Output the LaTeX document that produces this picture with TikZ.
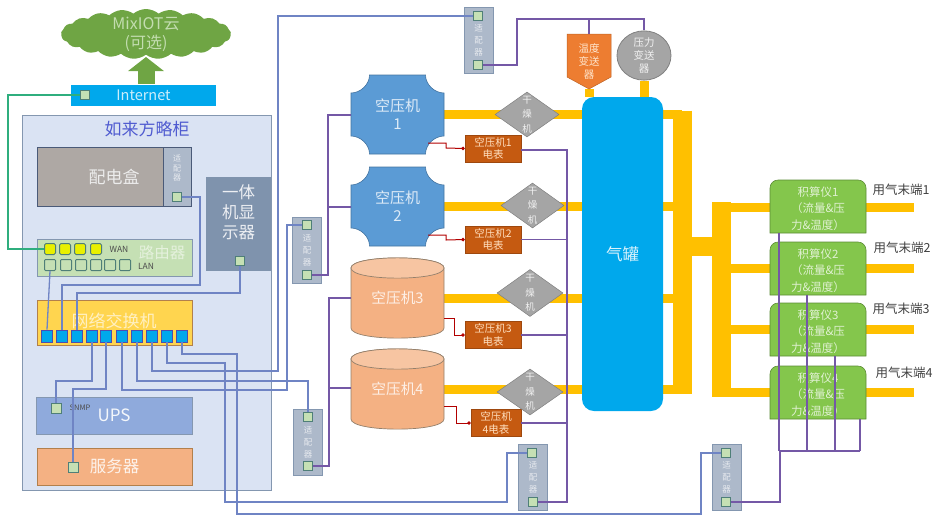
\documentclass[tikz,border=0pt]{standalone}
\usepackage{fontspec}
\setmainfont{Noto Sans CJK SC}
\usetikzlibrary{shapes.geometric,shapes.symbols,arrows.meta}
\pgfdeclarelayer{pipes}
\pgfsetlayers{pipes,main}
\definecolor{cabfill}{HTML}{DAE3F3}
\definecolor{cabedge}{HTML}{8497B0}
\definecolor{linkc}{HTML}{6F84C4}
\definecolor{purp}{HTML}{7458A6}
\definecolor{pipec}{HTML}{FFC000}
\definecolor{tankc}{HTML}{00A8EC}
\definecolor{greyd}{HTML}{A5A5A5}
\definecolor{compb}{HTML}{5B9BD5}
\definecolor{compo}{HTML}{F4B183}
\definecolor{meterc}{HTML}{C55A11}
\definecolor{totc}{HTML}{84C64C}
\definecolor{cloudc}{HTML}{6FA544}
\definecolor{cloudt}{HTML}{C3DDB0}
\definecolor{portc}{HTML}{C5E0B4}
\definecolor{porte}{HTML}{4F7F78}
\definecolor{yportc}{HTML}{E8F000}
\definecolor{pdc}{HTML}{AEA8A4}
\definecolor{pde}{HTML}{4A5A78}
\definecolor{dispc}{HTML}{7F93AD}
\definecolor{rtc}{HTML}{C5E0B4}
\definecolor{swc}{HTML}{FFD54F}
\definecolor{upsc}{HTML}{8FAADC}
\definecolor{adc}{HTML}{ADB9CA}
\definecolor{greenl}{HTML}{2FAE7E}
\definecolor{tempc}{HTML}{ED7D31}
\newcommand{\fs}[1]{\fontsize{#1pt}{\dimexpr #1pt*12/10\relax}\selectfont}
\tikzset{
  boxn/.style={rectangle,inner sep=0pt,align=center},
  adapter/.style={boxn,fill=adc,draw=cabedge,line width=.8pt,minimum width=29pt,minimum height=66pt,text=white!70!adc,font=\fs{8.5}},
  port/.style={rectangle,inner sep=0pt,minimum size=9pt,fill=portc,draw=porte,line width=1pt},
  swport/.style={rectangle,inner sep=0pt,minimum width=11pt,minimum height=12pt,fill=tankc,draw=blue!40!gray,line width=.7pt},
  yport/.style={rectangle,rounded corners=1.5pt,inner sep=0pt,minimum size=11pt,fill=yportc,draw=porte,line width=1pt},
  lport/.style={rectangle,rounded corners=1pt,inner sep=0pt,minimum size=11pt,fill=portc,draw=porte,line width=1pt},
  dryer/.style={diamond,aspect=1.4,inner sep=0pt,fill=greyd,draw=gray,line width=.5pt},
  dryt/.style={boxn,text=white!85!greyd,font=\fs{9.5}},
  meter/.style={boxn,fill=meterc,draw=meterc!80!black,line width=.5pt,text=orange!25!white,font=\fs{10.5}},
  link/.style={draw=linkc,line width=1.3pt},
  plink/.style={draw=purp,line width=1.1pt},
  redl/.style={draw=red!70!black,line width=1pt,-{Circle[length=3.5pt,width=3.5pt]}},
  pipe/.style={draw=pipec,line width=9pt},
  bigpipe/.style={draw=pipec,line width=19pt},
  cylt/.style={boxn,text=white!80!compo,font=\fs{14.7},minimum width=93pt,minimum height=80pt},
  compt/.style={boxn,text=white!80!compb,font=\fs{15}},
  tott/.style={boxn,text=white!75!totc,font=\fs{11.5},minimum width=96pt,minimum height=49pt},
  endl/.style={inner sep=0pt,text=black!75,font=\fs{12.5}},
  tinyl/.style={inner sep=0pt,text=black!70,font=\fs{8.5}},
}
\newcommand{\plaq}[3]{%
  \path[fill=compb,draw=compb!75!black,line width=.6pt,shift={(#2)}]
   (-28,-39.5) -- (28,-39.5) .. controls (28,-30) and (37,-21.5) .. (46.5,-21.5)
   -- (46.5,21.5) .. controls (37,21.5) and (28,30) .. (28,39.5)
   -- (-28,39.5) .. controls (-28,30) and (-37,21.5) .. (-46.5,21.5)
   -- (-46.5,-21.5) .. controls (-37,-21.5) and (-28,-30) .. (-28,-39.5) -- cycle;
  \node[compt,minimum width=93pt,minimum height=79pt] (#1) at (#2) {#3};}
\newcommand{\cylz}[3]{%
  \path[fill=compo,draw=gray!70!brown,line width=.7pt,shift={(#2)}]
   (-46.5,-30) -- (-46.5,30) .. controls (-46.5,43.5) and (46.5,43.5) .. (46.5,30) -- (46.5,-30)
   .. controls (46.5,-43.5) and (-46.5,-43.5) .. (-46.5,-30) -- cycle;
  \path[fill=compo!75!white,draw=gray!70!brown,line width=.7pt,shift={(#2)}]
   (-46.5,-30) .. controls (-46.5,-43.5) and (46.5,-43.5) .. (46.5,-30)
   .. controls (46.5,-16.5) and (-46.5,-16.5) .. (-46.5,-30) -- cycle;
  \node[cylt] (#1) at (#2) {\raisebox{-5pt}{#3}};}
\newcommand{\totz}[3]{%
  \path[fill=totc,draw=totc!70!black,line width=.6pt,shift={(#2)}]
   (-48,26.5) [rounded corners=8pt] -- (-48,-26.5) -- (48,-26.5) [sharp corners] -- (48,26.5) -- cycle;
  \node[tott,yshift=-2pt] (#1) at (#2) {#3};}
\begin{document}
\begin{tikzpicture}[x=1pt,y=-1pt]
\useasboundingbox (0,0) rectangle (933,515);
% cloud, internet
\node[cloud,cloud puffs=21,cloud puff arc=80,aspect=3.4,inner sep=0pt,minimum width=170pt,minimum height=50pt,fill=cloudc] (cloud) at (146,34) {};
\node[boxn,text=cloudt,font=\fs{16}] (cloudtxt) at (146,34) {MixIOT云\\(可选)};
\node[boxn,fill=tankc,minimum width=145pt,minimum height=21pt,text=white!80!tankc,font=\fs{14.5}] (inet) at (143.5,95) {Internet};
\node[port] (inetp) at (85,95) {};
\coordinate (arrowb) at (146,84);
\draw[draw=cloudc,line width=17pt,-{Triangle[length=14pt,width=35pt]}] (arrowb) -- (146,57);
% cabinet
\node[boxn,fill=cabfill,draw=cabedge,line width=1pt,minimum width=249pt,minimum height=375pt] (cab) at (146.5,302.5) {};
\node[boxn,text=blue!40!cabedge,font=\fs{17}] (cabt) at (147,129) {如来方略柜};
\node[boxn,fill=pdc,draw=pde,line width=1pt,minimum width=154pt,minimum height=59pt,text=white!85!gray,font=\fs{17}] (pd) at (114,176.5) {配电盒};
\node[adapter,draw=pde,minimum width=28pt,minimum height=59pt,font=\fs{8}] (pda) at (177,176.5) {适\\配\\器\\[8pt]};
\node[port] (pdp) at (177,197) {};
\node[boxn,fill=dispc,minimum width=65pt,minimum height=94pt,text=white!85!cabedge,font=\fs{16.5}] (disp) at (238.5,224) {一体\\机显\\示器\\[5pt]};
\node[port] (dispp) at (240,261) {};
% router
\node[boxn,fill=rtc,draw=cabedge,line width=1pt,minimum width=155pt,minimum height=37pt] (rt) at (114.5,257.5) {};
\node[boxn,text=white!55!rtc,font=\fs{15.5}] (rtt) at (162,252.5) {路由器};
\foreach \i/\x in {1/50,2/65,3/80,4/96}{\node[yport] (w\i) at (\x,249) {};}
\foreach \i/\x in {1/50,2/66,3/81,4/96,5/110,6/125}{\node[lport] (l\i) at (\x,265) {};}
\node[tinyl] (wan) at (119,249) {WAN};
\node[tinyl] (lan) at (146,266) {LAN};
% switch
\node[boxn,fill=swc,draw=gray!60!orange,line width=1pt,minimum width=155pt,minimum height=45pt] (sw) at (114.5,322.5) {};
\node[boxn,text=white!65!swc,font=\fs{17}] (swt) at (114,321) {网络交换机};
\foreach \i/\x in {1/47,2/62,3/77,4/92,5/106,6/122,7/137,8/152,9/167,10/182}{\node[swport] (s\i) at (\x,336) {};}
% ups, server
\node[boxn,fill=upsc,draw=cabedge,line width=.8pt,minimum width=156pt,minimum height=37pt,text=white!70!cabfill,font=\fs{17}] (ups) at (114,415.5) {UPS};
\node[port,minimum size=10pt] (upsp) at (56,408) {};
\node[tinyl,font=\fs{7.5}] (snmp) at (80,408) {SNMP};
\node[boxn,fill=compo,draw=gray!60!orange,line width=1pt,minimum width=155pt,minimum height=37pt,text=white!85!compo,font=\fs{16.5}] (srv) at (114.5,466.5) {服务器};
\node[port,minimum size=10pt] (srvp) at (73,467) {};
% adapters
\node[adapter] (aa) at (478.5,40.5) {适\\[2pt]配\\[2pt]器};
\node[port] (aa1) at (478,16) {};
\node[port] (aa2) at (478,65) {};
\node[adapter] (ab) at (307,250) {适\\[2pt]配\\[2pt]器};
\node[port] (ab1) at (307,225) {};
\node[port] (ab2) at (307,275) {};
\node[adapter] (ac) at (308,442) {适\\[2pt]配\\[2pt]器};
\node[port] (ac1) at (308,417) {};
\node[port] (ac2) at (308,466) {};
\node[adapter] (ad) at (533,477.5) {适\\[2pt]配\\[2pt]器};
\node[port] (ad1) at (532,453) {};
\node[port] (ad2) at (533,502) {};
\node[adapter] (ae) at (726.5,477.5) {适\\[2pt]配\\[2pt]器};
\node[port] (ae1) at (726,453) {};
\node[port] (ae2) at (726,502) {};
% compressors
\plaq{c1}{397.5,114.5}{空压机\\1}
\plaq{c2}{397.5,206.5}{空压机\\2}
\cylz{c3}{397.5,298}{空压机3}
\cylz{c4}{397.5,389}{空压机4}
% meters
\node[meter,minimum width=56pt,minimum height=27pt] (m1) at (493,148.5) {空压机1\\电表};
\node[meter,minimum width=56pt,minimum height=27pt] (m2) at (493,239.5) {空压机2\\电表};
\node[meter,minimum width=56pt,minimum height=27pt] (m3) at (493,335) {空压机3\\电表};
\node[meter,minimum width=50pt,minimum height=27pt] (m4) at (496,423) {空压机\\4电表};
% tank
\node[boxn,fill=tankc,rounded corners=12pt,minimum width=81pt,minimum height=314pt,text=white!85!tankc,font=\fs{16.5}] (tank) at (622.5,254) {气罐};
% dryers
\node[dryer,minimum width=64pt,minimum height=45pt] (d1) at (527,114.5) {};
\node[dryt] (d1t) at (527,114.5) {干\\[3pt]燥\\[3pt]机};
\node[dryer,minimum width=63pt,minimum height=45pt] (d2) at (532.5,205.5) {};
\node[dryt] (d2t) at (532.5,205.5) {干\\[3pt]燥\\[3pt]机};
\node[dryer,minimum width=66pt,minimum height=47pt] (d3) at (530,293) {};
\node[dryt] (d3t) at (530,293) {干\\[3pt]燥\\[3pt]机};
\node[dryer,minimum width=66pt,minimum height=46pt] (d4) at (530,392) {};
\node[dryt] (d4t) at (530,392) {干\\[3pt]燥\\[3pt]机};
% transmitters
\path[fill=tempc,draw=tempc!80!black,line width=.5pt] (567,34) -- (611,34) -- (611,77) -- (589,89) -- (567,77) -- cycle;
\node[boxn,minimum width=44pt,minimum height=55pt,text=orange!20!white,font=\fs{10.5}] (temp) at (589,61.5) {温度\\变送\\器};
\node[ellipse,inner sep=0pt,minimum width=54pt,minimum height=43pt,fill=greyd,draw=gray,line width=.8pt,align=center,text=white!85!greyd,font=\fs{10.5}] (pres) at (644,55.5) {压力\\变送\\器};
% totalizers
\totz{t1}{818,206.5}{积算仪1\\[2.5pt]（流量\&压\\[2.5pt]力\&温度）}
\totz{t2}{818,268.5}{积算仪2\\[2.5pt]（流量\&压\\[2.5pt]力\&温度）}
\totz{t3}{818,329.5}{积算仪3\\[2.5pt]（流量\&压\\[2.5pt]力\&温度）}
\totz{t4}{818,392.5}{积算仪4\\[2.5pt]（流量\&压\\[2.5pt]力\&温度）}
\node[endl] (e1) at (901,190) {用气末端1};
\node[endl] (e2) at (902,248) {用气末端2};
\node[endl] (e3) at (901,309) {用气末端3};
\node[endl] (e4) at (904,373) {用气末端4};
% named waypoints
\coordinate (v1a) at (682,110.5); \coordinate (v1b) at (682,393.5);
\coordinate (v2a) at (721.5,202); \coordinate (v2b) at (721.5,396.5);
\coordinate (xa) at (682,246); \coordinate (xb) at (721.5,246);
\coordinate (o1) at (914,207); \coordinate (o2) at (914,268);
\coordinate (o3) at (914,329); \coordinate (o4) at (914,392);
\coordinate (bus1) at (779,451); \coordinate (bus2) at (807,451);
\coordinate (bus3) at (835,451); \coordinate (bus4) at (860,451);
% pipes
\begin{pgfonlayer}{pipes}
\foreach \c in {c1,c2,c3,c4}{\draw[pipe] (\c.center -| c1.east) -- (\c.center -| tank.west);\draw[pipe] (\c.center -| tank.east) -- (\c.center -| v1a);}
\draw[bigpipe] (v1a) -- (v1b);
\draw[bigpipe] (v2a) -- (v2b);
\draw[bigpipe] (xa) -- (xb);
\foreach \t/\o in {t1/o1,t2/o2,t3/o3,t4/o4}{\draw[pipe] (v2a |- \o) -- (\t.west |- \o);\draw[pipe] (\t.east |- \o) -- (\o);}
\draw[pipe] (temp.south) -- (temp.south |- tank.north);
\draw[pipe] (pres.south) -- (pres.south |- tank.north);
\end{pgfonlayer}
% green link
\draw[draw=greenl,line width=1.3pt] (inetp.west) -- (8,95) -- (8,249) -- (w1.west);
% blue links
\draw[link] (l1.south) -- (s1.north);
\draw[link] (pdp.east) -- (200,197) -- (200,285) -| (s2.north);
\draw[link] (dispp.south) -- (240,293) -| (s3.north);
\draw[link] (s4.south) -- (92,381) -| (upsp.north);
\draw[link] (s5.south) -- (106,389) -| (srvp.north);
\draw[link] (s6.south) -- (122,390) -- (287,390) |- (ab1.west);
\draw[link] (s7.south) -- (137,381) -| (ac1.north);
\draw[link] (s8.south) -- (152,371) -- (278,371) |- (aa1.west);
\draw[link] (s9.south) -- (167,363) -- (225,363) -- (225,502) -- (507,502) |- (ad1.west);
\draw[link] (s10.south) -- (182,354) -- (237,354) -- (237,514) -- (701,514) |- (ae1.west);
% purple links
\draw[plink] (aa2.east) -- (517,65) -- (517,19) -- (644,19) -- (pres.north);
\draw[plink] (temp.north |- 0,19) -- (temp.north);
\draw[plink] (ab2.east) -- (328,275) -- (328,115) -- (351,115);
\draw[plink] (328,207) -- (351,207);
\draw[plink] (ac2.east) -- (329,466) -- (329,298) -- (351,298);
\draw[plink] (329,388) -- (351,388);
\draw[plink] (ad2.east) -- (567,502) -- (567,150) -- (m1.east |- 0,150);
\draw[plink] (m2.east) -- (m2.east -| 567,0);
\draw[plink] (m3.east) -- (m3.east -| 567,0);
\draw[plink] (m4.east) -- (m4.east -| 567,0);
\draw[plink] (ae2.east) -- (780,502) -- (780,451) -- (bus4);
\draw[plink] (t1.south -| bus1) -- (bus1);
\draw[plink] (t2.south -| bus2) -- (bus2);
\draw[plink] (t3.south -| bus3) -- (bus3);
\draw[plink] (t4.south -| bus4) -- (bus4);
% red links
\draw[redl] (428,143) -- (446,143) -- (446,148) -- (m1.west);
\draw[redl] (428,235) -- (446,235) -- (446,240) -- (m2.west);
\draw[redl] (c3.east |- 0,318) -- (454,318) -- (454,335) -- (m3.west);
\draw[redl] (c4.east |- 0,406) -- (456,406) -- (456,423) -- (m4.west);
\end{tikzpicture}
\end{document}
